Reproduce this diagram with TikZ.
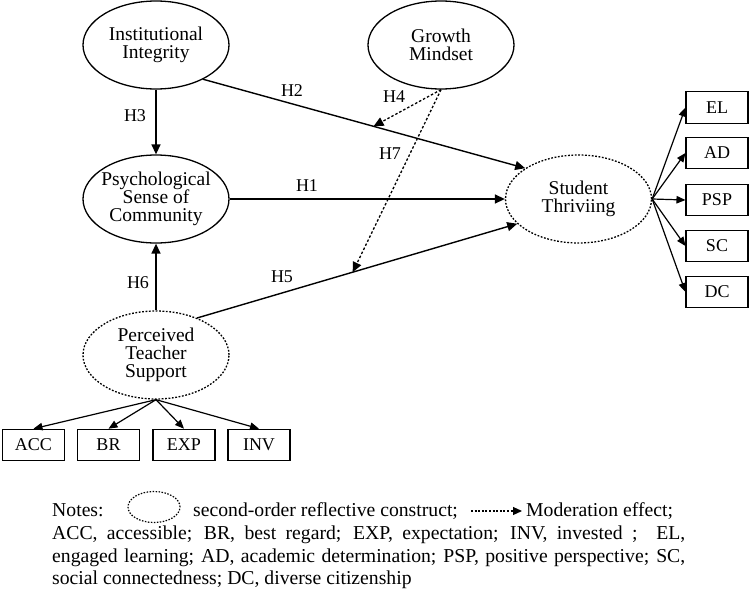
\documentclass[tikz,border=0pt]{standalone}
\usepackage{fontspec}
\setmainfont{Liberation Serif}
\usetikzlibrary{shapes.geometric,arrows.meta}
\begin{document}
\begin{tikzpicture}[x=1pt,y=-1pt,
 latent/.style={ellipse, draw, line width=1.3pt, minimum width=146pt, minimum height=88pt, inner sep=0pt},
 latentd/.style={latent, dash pattern=on 1.8pt off 1.6pt},
 lt/.style={align=center, font=\fontsize{19.5}{18}\selectfont, inner sep=0pt},
 indbox/.style={draw, line width=1.1pt, minimum width=62pt, minimum height=31.5pt, inner sep=0pt, font=\fontsize{18}{20}\selectfont},
 hyparrow/.style={line width=1.4pt, -{Triangle[length=10pt,width=9pt]}},
 modarrow/.style={line width=1.3pt, dash pattern=on 2.5pt off 2pt, -{Triangle[length=10pt,width=9pt]}},
 fanarrow/.style={line width=1.2pt, -{Triangle[length=9pt,width=7.5pt]}},
 hlabel/.style={font=\fontsize{18}{20}\selectfont, inner sep=0pt},
 notetext/.style={font=\fontsize{19.7}{22.5}\selectfont, inner sep=0pt, anchor=base west},
]
\useasboundingbox[fill=white] (0,0) rectangle (750,592);

% latent constructs
\node[latent, label={[lt]center:Institutional\\Integrity}] (II) at (156,45) {};
\node[latent, label={[lt]center:Growth\\Mindset}] (GM) at (441,45) {};
\node[latent, label={[lt]center:Psychological\\Sense of\\Community}] (PSC) at (156,199) {};
\node[latentd, label={[lt]center:Student\\Thriviing}] (ST) at (578.5,199) {};
\node[latentd, label={[lt]center:Perceived\\Teacher\\Support}] (PTS) at (156,355) {};

% indicators
\node[indbox] (EL) at (717,107.5) {EL};
\node[indbox] (AD) at (717,153) {AD};
\node[indbox] (PSP) at (717,200) {PSP};
\node[indbox] (SC) at (717,246) {SC};
\node[indbox] (DC) at (717,292) {DC};
\node[indbox] (ACC) at (33.5,445) {ACC};
\node[indbox] (BR) at (108.5,445) {BR};
\node[indbox] (EXP) at (184,445) {EXP};
\node[indbox] (INV) at (259,445) {INV};

% hypotheses
\draw[hyparrow] (II.south) -- (PSC.north);
\draw[hyparrow] (II.-36.5) -- coordinate[pos=0.529] (m4) (ST.150);
\draw[hyparrow] (PSC.east) -- (ST.west);
\draw[hyparrow] (PTS.north) -- (PSC.south);
\draw[hyparrow] (PTS.42.8) -- coordinate[pos=0.486] (m7) (ST.-158.4);
\draw[modarrow] (GM.south) -- (m4);
\draw[modarrow] (GM.south) -- (m7);

\node[hlabel] (h1) at (307,186) {H1};
\node[hlabel] (h2) at (292,91) {H2};
\node[hlabel] (h3) at (135,116) {H3};
\node[hlabel] (h4) at (394,97) {H4};
\node[hlabel] (h5) at (282,277) {H5};
\node[hlabel] (h6) at (138,283) {H6};
\node[hlabel] (h7) at (390,154) {H7};

% measurement arrows
\foreach \b in {EL,AD,PSP,SC,DC} \draw[fanarrow] (ST.east) -- (\b.west);
\foreach \b in {ACC,BR,EXP,INV} \draw[fanarrow] (PTS.south) -- (\b.north);

% notes
\node[notetext] (n1) at (52,516) {Notes:};
\node[ellipse, draw, line width=1.2pt, dash pattern=on 1.5pt off 1.5pt, minimum width=52pt, minimum height=31pt, inner sep=0pt] (icon) at (154,507) {};
\node[notetext] (n2) at (193,516) {second-order reflective construct;};
\coordinate (a1) at (471,511);
\coordinate (a2) at (522,511);
\draw[line width=1.2pt, dash pattern=on 2pt off 1.6pt, -{Triangle[length=9pt,width=8pt]}] (a1) -- (a2);
\node[notetext] (n3) at (526,516) {Moderation effect;};
\node[notetext] (n4) at (52,539) {\makebox[633pt][s]{ACC, accessible; BR, best regard; EXP, expectation; INV, invested ;\ \ EL,}};
\node[notetext] (n5) at (52,562) {\makebox[633pt][s]{engaged learning; AD, academic determination; PSP, positive perspective; SC,}};
\node[notetext] (n6) at (52,584) {social connectedness; DC, diverse citizenship};
\end{tikzpicture}
\end{document}
